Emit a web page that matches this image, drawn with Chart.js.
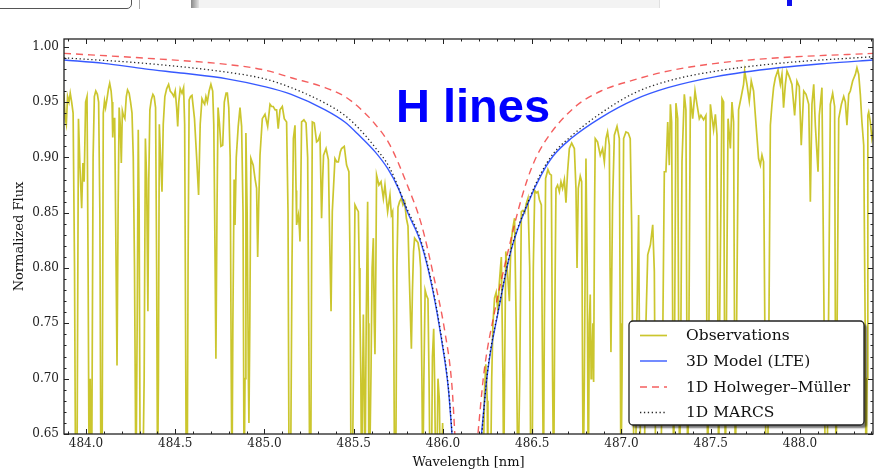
<!DOCTYPE html>
<html>
<head>
<meta charset="utf-8">
<script src="https://cdn.jsdelivr.net/npm/chart.js@4.4.1/dist/chart.umd.min.js"></script>
<style>
html,body{margin:0;padding:0;background:#fff;}
#wrap{position:relative;width:892px;height:476px;overflow:hidden;background:#fff;}
#c{position:absolute;left:0;top:0;}
.deco{position:absolute;}
</style>
</head>
<body>
<div id="wrap">
<canvas id="c" width="892" height="476"></canvas>
<div class="deco" style="left:-6px;top:-10px;width:136px;height:17px;border:1px solid #555;border-radius:5px;"></div>
<div class="deco" style="left:139px;top:0;width:1px;height:9px;background:#aaa;"></div>
<div class="deco" style="left:191px;top:0;width:8px;height:8px;background:linear-gradient(to right,#888,#e4e4e4);"></div>
<div class="deco" style="left:199px;top:0;width:460px;height:8px;background:#f3f3f3;border-right:1px solid #e0e0e0;"></div>
<div class="deco" style="left:787px;top:0;width:5px;height:6px;background:#1010ee;"></div>
</div>
<script>
// ---------- data ----------
const xTickLabels = ["484.0","484.5","485.0","485.5","486.0","486.5","487.0","487.5","488.0"];
const yTickLabels = ["0.65","0.70","0.75","0.80","0.85","0.90","0.95","1.00"];

const seriesNames = ["Observations","3D Model (LTE)","1D Holweger\u2013M\u00fcller","1D MARCS"];

// observed spectrum, blue wing (wavelength nm, normalized flux)
const obsBlueWing = [
[483.866,0.963],[483.876,0.958],[483.884,0.935],[483.890,0.930],[483.897,0.955],[483.905,0.950],[483.912,0.958],[483.920,0.950],[483.928,0.940],[483.936,0.800],
[483.942,0.600],[483.950,0.620],[483.958,0.935],[483.966,0.893],[483.976,0.854],[483.983,0.895],[483.990,0.878],[483.998,0.950],[484.006,0.955],[484.012,0.800],
[484.018,0.600],[484.024,0.700],[484.032,0.600],[484.040,0.900],[484.047,0.955],[484.055,0.960],[484.064,0.957],[484.071,0.950],[484.078,0.850],[484.084,0.600],
[484.090,0.600],[484.097,0.940],[484.104,0.951],[484.110,0.945],[484.118,0.953],[484.126,0.962],[484.133,0.967],[484.141,0.960],[484.146,0.950],[484.150,0.918],
[484.156,0.935],[484.161,0.935],[484.166,0.850],[484.174,0.712],[484.180,0.850],[484.186,0.945],[484.192,0.930],[484.198,0.895],[484.204,0.942],[484.210,0.938],
[484.218,0.935],[484.226,0.955],[484.233,0.961],[484.242,0.958],[484.250,0.950],[484.258,0.940],[484.265,0.900],[484.272,0.800],[484.280,0.600],[484.287,0.750],
[484.293,0.925],[484.298,0.850],[484.304,0.600],[484.312,0.600],[484.318,0.600],[484.326,0.700],[484.333,0.917],[484.340,0.880],[484.347,0.761],[484.352,0.880],
[484.358,0.943],[484.366,0.952],[484.375,0.957],[484.382,0.955],[484.390,0.945],[484.396,0.800],[484.401,0.600],[484.406,0.700],[484.411,0.930],[484.418,0.900],
[484.426,0.869],[484.433,0.930],[484.442,0.955],[484.452,0.962],[484.463,0.966],[484.472,0.960],[484.482,0.958],[484.492,0.955],[484.500,0.960],[484.508,0.945],
[484.514,0.928],[484.520,0.950],[484.528,0.962],[484.538,0.958],[484.547,0.963],[484.553,0.930],[484.558,0.750],[484.562,0.600],[484.567,0.600],[484.572,0.800],
[484.578,0.952],[484.586,0.955],[484.594,0.956],[484.600,0.947],[484.608,0.935],[484.620,0.900],[484.631,0.866],[484.640,0.930],[484.650,0.953],[484.658,0.950],
[484.665,0.948],[484.672,0.955],[484.680,0.950],[484.690,0.960],[484.700,0.966],[484.710,0.960],[484.716,0.930],[484.721,0.850],[484.728,0.718],[484.734,0.850],
[484.740,0.945],[484.748,0.930],[484.756,0.910],[484.766,0.911],[484.775,0.950],[484.785,0.958],[484.792,0.958],[484.800,0.945],[484.808,0.900],[484.814,0.700],
[484.818,0.600],[484.823,0.750],[484.830,0.880],[484.835,0.839],[484.842,0.900],[484.853,0.928],[484.863,0.945],[484.872,0.928],[484.880,0.850],[484.886,0.600],
[484.891,0.700],[484.896,0.922],[484.903,0.850],[484.910,0.700],[484.913,0.660],[484.918,0.750],[484.924,0.899],[484.937,0.893],[484.948,0.880],[484.956,0.872],
[484.962,0.810],[484.968,0.860],[484.975,0.902],[484.988,0.935],[485.003,0.939],[485.018,0.928],[485.031,0.948],[485.040,0.946],[485.049,0.946],[485.060,0.943],
[485.068,0.943],[485.077,0.926],[485.087,0.943],[485.100,0.946],[485.111,0.935],[485.124,0.932],[485.132,0.850],[485.138,0.600],[485.146,0.600],[485.154,0.800],
[485.162,0.917],[485.171,0.929],[485.177,0.870],[485.180,0.839],[485.190,0.848],[485.196,0.835],[485.199,0.824],[485.204,0.880],[485.208,0.932],[485.221,0.934],
[485.233,0.931],[485.242,0.900],[485.248,0.750],[485.254,0.600],[485.259,0.600],[485.264,0.800],[485.268,0.932],[485.279,0.931],[485.292,0.914],[485.300,0.915],
[485.311,0.920],[485.320,0.845],[485.326,0.880],[485.331,0.902],[485.345,0.908],[485.358,0.898],[485.366,0.820],[485.373,0.761],[485.380,0.851],[485.395,0.899],
[485.405,0.896],[485.414,0.896],[485.425,0.905],[485.432,0.908],[485.447,0.910],[485.460,0.893],[485.473,0.887],[485.480,0.800],[485.485,0.600],[485.492,0.600],
[485.498,0.700],[485.507,0.857],[485.516,0.854],[485.526,0.851],[485.531,0.800],[485.535,0.758],[485.540,0.700],[485.544,0.600],[485.550,0.700],[485.554,0.758],
[485.558,0.700],[485.563,0.600],[485.570,0.750],[485.578,0.860],[485.582,0.750],[485.585,0.600],[485.592,0.650],[485.597,0.707],[485.603,0.800],[485.610,0.827],
[485.615,0.750],[485.619,0.722],[485.624,0.800],[485.628,0.884],[485.641,0.875],[485.653,0.878],[485.666,0.863],[485.675,0.875],[485.690,0.851],[485.703,0.866],
[485.711,0.848],[485.718,0.851],[485.724,0.750],[485.729,0.600],[485.735,0.600],[485.742,0.800],[485.748,0.855],[485.757,0.860],[485.767,0.863],[485.776,0.857],
[485.785,0.860],[485.795,0.845],[485.804,0.838],[485.810,0.800],[485.817,0.760],[485.823,0.727],[485.829,0.780],[485.835,0.815],[485.841,0.827],[485.850,0.825],
[485.860,0.823],[485.868,0.815],[485.875,0.800],[485.882,0.700],[485.887,0.600],[485.893,0.700],[485.900,0.780],[485.908,0.775],[485.916,0.772],[485.922,0.700],
[485.928,0.600],[485.935,0.600],[485.941,0.720],[485.948,0.745],[485.953,0.700],[485.960,0.600],[485.966,0.620],[485.972,0.700],[485.980,0.680],[485.986,0.600],
[485.991,0.620],[485.998,0.660],[486.004,0.600],[486.015,0.600]
];

// observed spectrum, red wing
const obsRedWing = [
[486.215,0.600],[486.226,0.620],[486.233,0.690],[486.240,0.713],[486.248,0.680],[486.252,0.600],[486.260,0.620],[486.266,0.600],[486.273,0.700],[486.280,0.750],
[486.289,0.773],[486.298,0.778],[486.308,0.760],[486.315,0.785],[486.322,0.800],[486.327,0.810],[486.336,0.700],[486.340,0.600],[486.345,0.700],[486.352,0.815],
[486.364,0.790],[486.372,0.770],[486.380,0.820],[486.390,0.835],[486.401,0.845],[486.410,0.750],[486.420,0.600],[486.430,0.700],[486.439,0.851],[486.448,0.852],
[486.458,0.850],[486.466,0.858],[486.476,0.863],[486.486,0.800],[486.492,0.600],[486.500,0.620],[486.506,0.800],[486.514,0.870],[486.523,0.868],[486.532,0.869],
[486.540,0.862],[486.551,0.857],[486.558,0.700],[486.563,0.600],[486.568,0.750],[486.575,0.881],[486.588,0.889],[486.598,0.885],[486.607,0.884],[486.614,0.700],
[486.620,0.600],[486.626,0.750],[486.633,0.872],[486.642,0.875],[486.652,0.869],[486.661,0.878],[486.670,0.872],[486.680,0.880],[486.689,0.859],[486.698,0.887],
[486.708,0.908],[486.721,0.913],[486.736,0.908],[486.745,0.872],[486.751,0.800],[486.758,0.872],[486.769,0.883],[486.777,0.878],[486.782,0.700],[486.786,0.600],
[486.792,0.700],[486.801,0.899],[486.808,0.800],[486.814,0.600],[486.820,0.750],[486.825,0.776],[486.830,0.700],[486.833,0.707],[486.840,0.750],[486.844,0.697],
[486.849,0.850],[486.853,0.917],[486.866,0.914],[486.881,0.902],[486.894,0.908],[486.904,0.896],[486.913,0.917],[486.922,0.923],[486.932,0.911],[486.936,0.800],
[486.941,0.724],[486.946,0.800],[486.950,0.857],[486.960,0.920],[486.975,0.928],[486.988,0.917],[486.993,0.750],[486.997,0.600],[487.003,0.700],[487.012,0.917],
[487.025,0.923],[487.038,0.922],[487.049,0.917],[487.057,0.839],[487.064,0.700],[487.072,0.600],[487.079,0.600],[487.086,0.750],[487.096,0.848],[487.102,0.700],
[487.109,0.600],[487.118,0.650],[487.128,0.620],[487.137,0.750],[487.147,0.812],[487.162,0.821],[487.175,0.839],[487.184,0.797],[487.190,0.650],[487.196,0.600],
[487.206,0.600],[487.214,0.650],[487.221,0.620],[487.232,0.750],[487.240,0.887],[487.249,0.887],[487.259,0.932],[487.268,0.893],[487.274,0.948],[487.281,0.932],
[487.287,0.750],[487.292,0.600],[487.298,0.750],[487.305,0.949],[487.315,0.935],[487.320,0.750],[487.326,0.600],[487.333,0.750],[487.339,0.896],[487.352,0.957],
[487.361,0.943],[487.366,0.750],[487.371,0.600],[487.378,0.750],[487.386,0.955],[487.399,0.935],[487.412,0.960],[487.423,0.948],[487.436,0.935],[487.445,0.938],
[487.460,0.934],[487.473,0.938],[487.478,0.750],[487.483,0.600],[487.490,0.750],[487.498,0.948],[487.516,0.925],[487.526,0.939],[487.535,0.920],[487.540,0.750],
[487.544,0.600],[487.550,0.750],[487.563,0.953],[487.572,0.950],[487.577,0.750],[487.582,0.600],[487.588,0.750],[487.597,0.935],[487.610,0.908],[487.619,0.950],
[487.628,0.932],[487.633,0.750],[487.638,0.600],[487.645,0.750],[487.656,0.943],[487.671,0.955],[487.684,0.966],[487.690,0.978],[487.703,0.966],[487.716,0.951],
[487.727,0.969],[487.740,0.960],[487.750,0.938],[487.768,0.899],[487.778,0.893],[487.787,0.902],[487.796,0.896],[487.803,0.750],[487.810,0.600],[487.818,0.600],
[487.826,0.750],[487.834,0.929],[487.843,0.948],[487.852,0.963],[487.862,0.972],[487.877,0.979],[487.890,0.966],[487.899,0.975],[487.908,0.945],[487.918,0.966],
[487.927,0.978],[487.940,0.973],[487.955,0.966],[487.970,0.938],[487.983,0.969],[487.996,0.964],[488.007,0.911],[488.021,0.960],[488.034,0.957],[488.049,0.948],
[488.058,0.860],[488.067,0.948],[488.077,0.966],[488.086,0.929],[488.101,0.887],[488.108,0.938],[488.123,0.963],[488.135,0.750],[488.142,0.600],[488.151,0.600],
[488.160,0.750],[488.170,0.948],[488.183,0.958],[488.194,0.946],[488.198,0.750],[488.202,0.600],[488.208,0.750],[488.217,0.935],[488.232,0.948],[488.245,0.955],
[488.254,0.950],[488.263,0.929],[488.273,0.957],[488.282,0.960],[488.295,0.969],[488.310,0.975],[488.319,0.981],[488.329,0.975],[488.338,0.957],[488.347,0.932],
[488.357,0.911],[488.365,0.750],[488.370,0.600],[488.376,0.700],[488.380,0.938],[488.385,0.941],[488.394,0.932],[488.403,0.917],[488.422,0.932]
];

// model profiles (blue wing / red wing)
const model3DBlue = [[483.877,0.988],[484.10,0.985],[484.33,0.980],[484.55,0.976],[484.79,0.971],[485.00,0.964],[485.15,0.957],[485.34,0.943],[485.45,0.932],[485.53,0.920],[485.62,0.905],[485.69,0.890],[485.75,0.872],[485.80,0.851],[485.88,0.821],[485.94,0.782],[485.99,0.737],[486.03,0.691],[486.055,0.640]];
const model3DRed  = [[486.210,0.640],[486.25,0.706],[486.31,0.761],[486.38,0.815],[486.48,0.860],[486.55,0.884],[486.616,0.901],[486.717,0.917],[486.885,0.936],[487.07,0.952],[487.26,0.963],[487.53,0.973],[487.88,0.981],[488.15,0.985],[488.41,0.988]];
const hmBlue = [[483.877,0.994],[484.30,0.990],[484.79,0.984],[485.00,0.979],[485.15,0.972],[485.34,0.963],[485.45,0.955],[485.53,0.945],[485.62,0.930],[485.70,0.912],[485.80,0.875],[485.88,0.839],[485.95,0.791],[486.01,0.743],[486.05,0.694],[486.07,0.640]];
const hmRed  = [[486.19,0.640],[486.23,0.706],[486.29,0.761],[486.36,0.812],[486.44,0.863],[486.50,0.892],[486.57,0.914],[486.735,0.945],[486.885,0.960],[487.07,0.970],[487.26,0.978],[487.53,0.985],[487.88,0.990],[488.41,0.994]];
const marcsBlue = [[483.877,0.990],[484.33,0.985],[484.79,0.977],[485.00,0.971],[485.15,0.963],[485.34,0.949],[485.45,0.938],[485.53,0.926],[485.62,0.909],[485.70,0.891],[485.80,0.853],[485.88,0.823],[485.94,0.784],[485.99,0.739],[486.03,0.693],[486.056,0.640]];
const marcsRed  = [[486.212,0.640],[486.25,0.707],[486.31,0.762],[486.38,0.816],[486.48,0.861],[486.55,0.886],[486.616,0.903],[486.717,0.919],[486.885,0.940],[487.07,0.958],[487.26,0.969],[487.53,0.978],[487.88,0.985],[488.41,0.991]];

// ---------- build ----------
const toPts = a => a.map(p => ({x: p[0], y: p[1]}));
const join = (a, b) => toPts(a).concat([{x: (a[a.length-1][0] + b[0][0]) / 2, y: null}], toPts(b));

const serif = "'DejaVu Serif', 'Liberation Serif', serif";
const styles = [
  {color: 'rgba(192,186,0,0.82)', width: 1.7, dash: []},
  {color: 'rgba(20,60,255,0.85)', width: 1.4, dash: []},
  {color: 'rgba(240,40,40,0.75)', width: 1.4, dash: [7, 5]},
  {color: 'rgba(0,0,0,0.85)', width: 1.3, dash: [1.3, 2.6]}
];
const seriesData = [join(obsBlueWing, obsRedWing), join(model3DBlue, model3DRed), join(hmBlue, hmRed), join(marcsBlue, marcsRed)];

const datasets = seriesNames.map((name, i) => ({
  label: name,
  data: seriesData[i],
  borderColor: styles[i].color,
  borderWidth: styles[i].width,
  borderDash: styles[i].dash,
  pointRadius: 0,
  fill: false,
  spanGaps: false,
  clip: 0,
  tension: 0,
  cubicInterpolationMode: i === 0 ? 'default' : 'monotone',
  order: i === 0 ? 10 : 4 - i
}));

const frameTicks = {
  id: 'frameTicks',
  afterDatasetsDraw(chart) {
    const {ctx, chartArea: a, scales: {x, y}} = chart;
    ctx.save();
    ctx.strokeStyle = '#222';
    ctx.lineWidth = 1;
    const seg = (x1, y1, x2, y2) => { ctx.beginPath(); ctx.moveTo(x1, y1); ctx.lineTo(x2, y2); ctx.stroke(); };
    for (let i = Math.ceil(x.min * 10); i <= Math.floor(x.max * 10); i++) {
      const px = Math.round(x.getPixelForValue(i / 10)) + 0.5;
      const len = (i % 5 === 0) ? 5 : 2.5;
      seg(px, a.bottom, px, a.bottom - len);
      seg(px, a.top, px, a.top + len);
    }
    for (let j = Math.ceil(y.min * 100 - 1e-6); j <= Math.floor(y.max * 100 + 1e-6); j++) {
      const py = Math.round(y.getPixelForValue(j / 100)) + 0.5;
      const len = (j % 5 === 0) ? 5 : 2.5;
      seg(a.left, py, a.left + len, py);
      seg(a.right, py, a.right - len, py);
    }
    ctx.lineWidth = 1.3;
    ctx.strokeRect(a.left, a.top, a.right - a.left, a.bottom - a.top);
    ctx.restore();
  },
  afterDraw(chart) {
    const ctx = chart.ctx;
    ctx.save();
    // big annotation
    ctx.fillStyle = '#0000ff';
    ctx.font = "bold 47px 'Liberation Sans', Arial, sans-serif";
    ctx.textBaseline = 'alphabetic';
    ctx.textAlign = 'left';
    ctx.fillText('H lines', 396, 122);
    // legend
    const L = 629, T = 321, W = 235, H = 104, r = 4;
    const rr = () => {
      ctx.beginPath();
      ctx.moveTo(L + r, T); ctx.lineTo(L + W - r, T); ctx.arcTo(L + W, T, L + W, T + r, r);
      ctx.lineTo(L + W, T + H - r); ctx.arcTo(L + W, T + H, L + W - r, T + H, r);
      ctx.lineTo(L + r, T + H); ctx.arcTo(L, T + H, L, T + H - r, r);
      ctx.lineTo(L, T + r); ctx.arcTo(L, T, L + r, T, r); ctx.closePath();
    };
    ctx.save();
    ctx.shadowColor = 'rgba(0,0,0,0.55)';
    ctx.shadowOffsetX = 3; ctx.shadowOffsetY = 3; ctx.shadowBlur = 2;
    rr(); ctx.fillStyle = '#fff'; ctx.fill();
    ctx.restore();
    rr(); ctx.strokeStyle = '#222'; ctx.lineWidth = 1.3; ctx.stroke();
    const rows = [335, 360.5, 386.5, 412];
    chart.data.datasets.forEach((ds, i) => {
      ctx.save();
      ctx.strokeStyle = ds.borderColor;
      ctx.lineWidth = ds.borderWidth;
      ctx.setLineDash(ds.borderDash || []);
      ctx.beginPath(); ctx.moveTo(640, rows[i] + 0.5); ctx.lineTo(667, rows[i] + 0.5); ctx.stroke();
      ctx.restore();
      ctx.fillStyle = '#111';
      ctx.font = "15.5px " + serif;
      ctx.textBaseline = 'middle';
      ctx.fillText(ds.label, 686, rows[i] + 1);
    });
    ctx.restore();
  }
};

new Chart(document.getElementById('c'), {
  type: 'line',
  data: {datasets},
  options: {
    responsive: false,
    animation: false,
    devicePixelRatio: 1,
    parsing: true,
    layout: {padding: {top: 39, right: 19, left: 0, bottom: 0}},
    plugins: {legend: {display: false}, tooltip: {enabled: false}, title: {display: false}},
    scales: {
      x: {
        type: 'linear',
        min: 483.877,
        max: 488.409,
        grid: {display: false, drawTicks: false},
        border: {display: false},
        ticks: {
          stepSize: 0.5, includeBounds: false, autoSkip: false, maxRotation: 0, padding: 3,
          color: '#222', font: {family: serif, size: 12},
          callback: (v) => xTickLabels.includes(Number(v).toFixed(1)) ? Number(v).toFixed(1) : ''
        },
        title: {display: true, text: 'Wavelength [nm]', color: '#111', font: {family: serif, size: 13}, padding: {top: 0, bottom: 6}},
        afterFit: (s) => { s.height = 42; }
      },
      y: {
        type: 'linear',
        min: 0.65,
        max: 1.007,
        grid: {display: false, drawTicks: false},
        border: {display: false},
        ticks: {
          stepSize: 0.05, includeBounds: false, padding: 5,
          color: '#222', font: {family: serif, size: 12},
          callback: (v) => yTickLabels.includes(Number(v).toFixed(2)) ? Number(v).toFixed(2) : ''
        },
        title: {display: true, text: 'Normalized Flux', color: '#111', font: {family: serif, size: 13}, padding: {top: 12, bottom: 0}},
        afterFit: (s) => { s.width = 64; }
      }
    }
  },
  plugins: [frameTicks]
});
</script>
</body>
</html>
